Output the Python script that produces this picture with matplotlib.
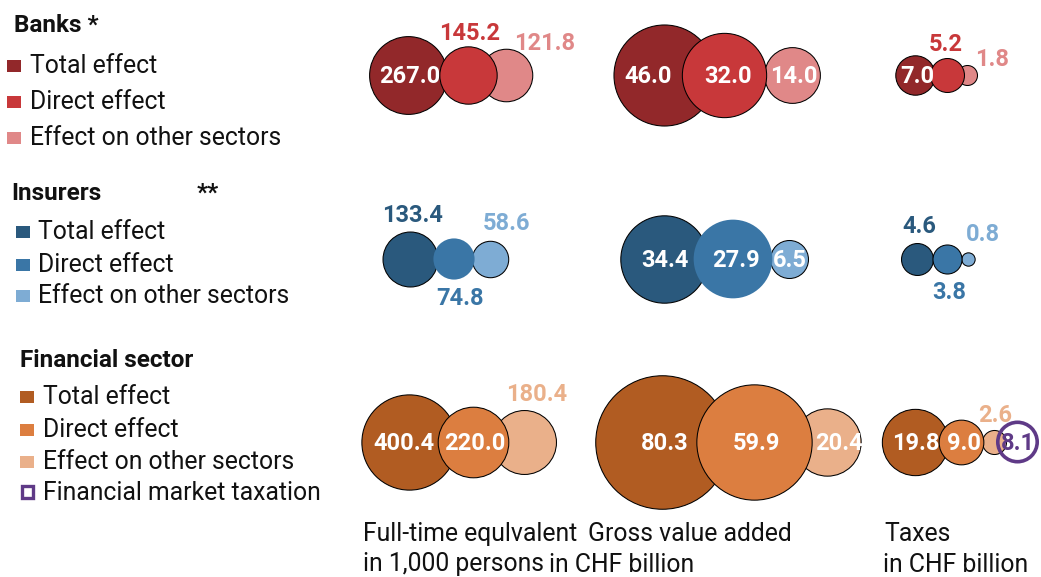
import matplotlib
matplotlib.use("Agg")
import matplotlib.pyplot as plt
from matplotlib.patches import Rectangle
import numpy as np

plt.rcParams['font.family'] = ['Roboto', 'DejaVu Sans']

# ---------------- data ----------------
sectors = ["Banks", "Insurers", "Financial sector"]
sector_titles = ["Banks *", "Insurers", "Financial sector"]
effects = ["Total effect", "Direct effect", "Effect on other sectors"]
measures = ["FTE", "GVA", "Taxes"]

banks_fte = [267.0, 145.2, 121.8]
banks_gva = [46.0, 32.0, 14.0]
banks_tax = [7.0, 5.2, 1.8]
insurers_fte = [133.4, 74.8, 58.6]
insurers_gva = [34.4, 27.9, 6.5]
insurers_tax = [4.6, 3.8, 0.8]
financial_fte = [400.4, 220.0, 180.4]
financial_gva = [80.3, 59.9, 20.4]
financial_tax = [19.8, 9.0, 2.6]
financial_market_taxation = 8.1

values = [
    [banks_fte, banks_gva, banks_tax],
    [insurers_fte, insurers_gva, insurers_tax],
    [financial_fte, financial_gva, financial_tax],
]

axis_titles = [
    ("Full-time equlvalent", "in 1,000 persons"),
    ("Gross value added", "in CHF billion"),
    ("Taxes", "in CHF billion"),
]

# ---------------- styles / layout ----------------
colors = [
    ["#92282A", "#C8383A", "#E08888"],
    ["#2A597D", "#3A76A6", "#7EACD4"],
    ["#B15C22", "#DC7E40", "#EAB08A"],
]
purple = "#5F3A87"

# pixel radius per sqrt(unit) for each measure (FTE vs CHF billion)
radius_scale = [2.38, 7.45, 7.45]

row_y = [75, 259, 442]
bubble_x = [
    [[408, 468, 506], [664, 724, 792], [915, 947, 967]],
    [[410, 454, 490], [664, 733, 789], [917, 947, 968]],
    [[409, 473, 524], [662, 754, 827], [915, 961, 994]],
]
ring_x = 1017.5

# label offsets (cap-centre relative to bubble centre); dy == 0 -> inside label
label_off = [
    [[(2, 0), (2, -43.5), (39, -33)], [(-16, 0), (4, 0), (2, 0)], [(2.5, 0), (-1, -32), (25, -17)]],
    [[(3, -45), (6, 37.5), (17, -37)], [(1, 0), (3, 0), (1, 0)], [(2, -34), (2, 32), (15, -26)]],
    [[(-5, 0), (2, 0), (13, -49)], [(2.5, 0), (2, 0), (12, 0)], [(0.5, 0), (3, 0), (1, -28)]],
]
no_edge = {(1, 0, 1), (1, 1, 1)}
draw_order = [0, 2, 1]  # total, other, direct on top
zorders = {0: 2, 2: 3, 1: 4}

W, H = 1041, 577
fig = plt.figure(figsize=(W / 100, H / 100), dpi=100)
ax = fig.add_axes([0, 0, 1, 1])
ax.set_xlim(0, W)
ax.set_ylim(H, 0)
ax.axis("off")

PX2PT = 72 / 100
NUM_FS = 17
CAP_HALF = 8.4


def size_of(r_px):
    return (2 * r_px * PX2PT) ** 2


for si in range(3):
    for mi in range(3):
        for ei in draw_order:
            v = values[si][mi][ei]
            r = radius_scale[mi] * np.sqrt(v)
            ec = "none" if (si, mi, ei) in no_edge else "black"
            ax.scatter([bubble_x[si][mi][ei]], [row_y[si]], s=size_of(r),
                       c=colors[si][ei], edgecolors=ec, linewidths=0.75,
                       zorder=zorders[ei])
        for ei in range(3):
            v = values[si][mi][ei]
            dx, dy = label_off[si][mi][ei]
            inside = dy == 0
            ax.text(bubble_x[si][mi][ei] + dx, row_y[si] + dy + CAP_HALF,
                    f"{v:.1f}", ha="center", va="baseline", fontsize=NUM_FS,
                    fontweight="bold",
                    color="white" if inside else colors[si][ei], zorder=10)

# financial market taxation ring
r_ring = radius_scale[2] * np.sqrt(financial_market_taxation) - 1.5
ax.scatter([ring_x], [row_y[2]], s=size_of(r_ring), facecolors="none",
           edgecolors=purple, linewidths=2.6, zorder=6)
ax.text(ring_x, row_y[2] + CAP_HALF, f"{financial_market_taxation:.1f}",
        ha="center", va="baseline", fontsize=NUM_FS, fontweight="bold",
        color=purple, zorder=10)

# ---------------- legends ----------------
LEG_FS = 17.8
TITLE_FS = 17.5
title_pos = [(14, 31.7), (11.7, 200), (20, 366.7)]
item_x = [(7.3, 30), (16, 38.3), (20, 42.7)]
item_base = [[72.7, 109.3, 145], [239.3, 271.7, 303.3], [404, 436.7, 469]]

for si in range(3):
    tx, ty = title_pos[si]
    ax.text(tx, ty, sector_titles[si], fontsize=TITLE_FS, fontweight="bold",
            ha="left", va="baseline", color="#111111")
    sx, lx = item_x[si]
    for ei in range(3):
        b = item_base[si][ei]
        ax.add_patch(Rectangle((sx, b - 13), 14, 12, facecolor=colors[si][ei],
                               edgecolor="none"))
        ax.text(lx, b, effects[ei], fontsize=LEG_FS, ha="left", va="baseline",
                color="#111111")

ax.text(197, 200, "**", fontsize=TITLE_FS, fontweight="bold", ha="left",
        va="baseline", color="#111111")

# purple outlined legend square
ax.add_patch(Rectangle((21.5, 500 - 14.5), 11, 12, facecolor="none",
                       edgecolor=purple, linewidth=2.4))
ax.text(42.7, 500, "Financial market taxation", fontsize=LEG_FS, ha="left",
        va="baseline", color="#111111")

# ---------------- axis titles ----------------
title_x = [(363, 363), (588, 549), (884, 883)]
for mi in range(3):
    l1, l2 = axis_titles[mi]
    x1, x2 = title_x[mi]
    ax.text(x1, 541, l1, fontsize=LEG_FS, ha="left", va="baseline", color="#111111")
    ax.text(x2, 571.5, l2, fontsize=LEG_FS, ha="left", va="baseline", color="#111111")

fig.savefig("out.png", dpi=100)
